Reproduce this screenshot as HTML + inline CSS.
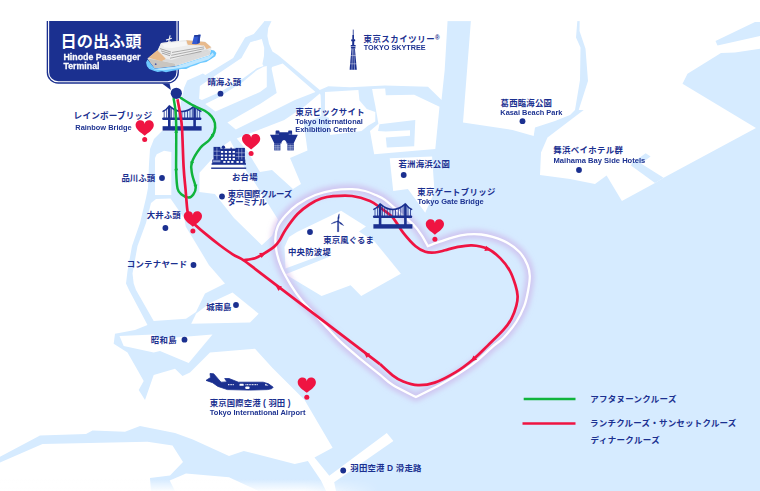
<!DOCTYPE html>
<html lang="ja"><head><meta charset="utf-8"><title>Tokyo Bay Cruise Route Map</title>
<style>
html,body{margin:0;padding:0;background:#fff;}
body{width:760px;height:491px;overflow:hidden;font-family:"Liberation Sans","Noto Sans CJK JP",sans-serif;}
svg{display:block;}
text{font-family:"Liberation Sans","Noto Sans CJK JP",sans-serif;font-weight:bold;}
</style></head><body>
<svg width="760" height="491" viewBox="0 0 760 491" role="img" aria-label="Tokyo Bay cruise route map">
<defs>
<linearGradient id="gmB" x1="0" y1="0" x2="1" y2="0"><stop offset="0" stop-color="#fff"/><stop offset=".8" stop-color="#fff"/><stop offset="1" stop-color="#000"/></linearGradient><mask id="mB" maskUnits="userSpaceOnUse" x="0" y="470" width="380" height="25"><rect x="0" y="470" width="380" height="25" fill="url(#gmB)"/></mask>
<linearGradient id="fadeB" x1="0" y1="0" x2="0" y2="1"><stop offset="0" stop-color="#fff" stop-opacity="0"/><stop offset="1" stop-color="#fff" stop-opacity=".9"/></linearGradient>
<filter id="glow" x="-10%" y="-10%" width="120%" height="120%"><feGaussianBlur stdDeviation="2.6"/></filter>
<g id="bridge" fill="#1b3090" stroke="#1b3090"><path stroke="none" d="M5.7,22V2.2L7,-.3L8.3,2.2V22Z"/><path stroke="none" d="M31,22V2.2L32.3,-.3L33.6,2.2V22Z"/><rect stroke="none" x="0" y="12.5" width="39" height="2.5" rx=".8"/><rect stroke="none" x=".3" y="21.2" width="39" height="4.4"/><path fill="none" stroke-width="1.5" d="M7.0,0.9Q19.65,12.2 32.3,0.9"/><path fill="none" stroke-width="1.5" d="M7.0,0.9Q4.4,5 .2,6.6"/><path fill="none" stroke-width="1.5" d="M32.3,0.9Q34.9,5 39.1,6.6"/><path fill="none" stroke-width=".8" d="M9.3,2.77V13M11.6,4.26V13M14.1,5.46V13M16.9,6.28V13M19.65,6.55V13M22.4,6.28V13M25.2,5.46V13M27.7,4.26V13M30,2.77V13M1.9,5.3V13M37.4,5.3V13M4.4,3.4V13M34.9,3.4V13"/></g>
</defs>
<rect x="0" y="0" width="760" height="491" fill="#d6ebff"/>
<g fill="#fff">
<polygon points="0,0 172,0 172,131 162,131 154,139 150,149 149,164 148,188 146,198 140,223 132,246 127.5,271 126,283.5 129,290 147.5,325 135,330 115,333.7 113.7,343.7 127.5,352.5 137.5,370 143.7,381 138.7,390 145,400 153.7,375 175,368.7 182.5,376 190,372.5 210,352.5 255,348.7 272.5,368 304.6,400 332.6,447.7 314.5,457.6 329.3,475.7 386.8,432.9 393.4,441.1 334.2,482.2 336,491 0,491"/>
<polygon points="156.7,154.2 164,150.8 171.3,152 171.3,195 155,195 155,158"/>
<polygon points="156,199 170.5,198.5 184.4,218.5 185.7,226.5 193,238.4 208.9,264.9 225,283.5 205,293.5 196,312 186,318.7 153.7,321 136,290 133.7,283.5 132.5,273.5 137.5,246 146,223 151,203"/>
<polygon points="232.5,292.5 258.7,313.7 250,322.5 191.2,323.7 196.2,313.5 210,303"/>
<polygon points="119.5,336 153.7,334.5 160,338.7 212.5,334.5 188.7,363 160,351 153.7,352.5 123.7,346"/>
<polygon points="297,232 341.1,210.7 366,226.6 359,231.5 374.8,241.7 400.9,273.7 361.2,295.9 350.6,285.3 321.6,295.9 285.8,274.6 284.5,247 289,237"/>
<polygon points="389.7,158.2 432.1,156.4 433.8,181.5 434.5,192 425.2,212.7 407.9,189 393.2,191"/>
<polygon points="472.5,0 579,0 576,37.5 580.5,47.5 580,80 575,110 570,115 555,121 535,127.5 533.7,136 512.5,130 463,122.5"/>
<polygon points="580,0 760,0 760,22 755,22 715.5,41 717.5,45.5 760,36 760,48.7 735,52.5 721,53 687.5,73.7 682.5,83.7 756,128 663.6,177.7 655,183 621.9,200.9 606.6,175.5 595,184 570,179 540,175 541,152.5 547.5,137.5 583.7,110 578.7,110 588,81 585.5,48.7 579.5,31"/>
<polygon points="172,0 264.2,0 264.2,21.6 253.8,33.9 245.1,37.5 234.8,55 233.2,58 205.4,75 202.9,73.5 187.2,80.6 184,88 183.2,92.8 181.4,98.7 180,110 172,122 163,131 150,131"/>
<polygon points="199.9,86 241.5,58 243.1,55 250.3,42.2 261.8,39 264.2,47.8 264,56 262.4,64.1 263.5,66 256.9,68.3 243,78.5 220.6,91.8 201.9,99.9 199.1,98.7"/>
<polygon points="205.2,103.9 218.3,97.6 243,81.8 256.9,70.2 263.5,66.8 266.8,66 266.8,87 260,92 215.5,111.5"/>
<polygon points="271.3,0 447.5,0 447.5,22 444.7,70 441.5,100 428,86.8 385,85.5 350,87.3 328.3,86.3 319.8,90 277.9,55 272.4,51.4 269,43.8 267.4,35.9 268.2,27.9 271.3,21.6"/>
<polygon points="227.4,122.6 260,103.9 276.7,93 271.6,68.8 272,67 282.7,63.5 315.5,92.1 294.4,100.3 260,117.4 235.8,129.4"/>
<polygon points="236.7,138.5 269.5,125.8 284.3,120 305,106 319.8,93.5 320.6,95 321.4,115.9 303.7,123 307.5,150.5 290,158 301,184 293,189 272,170 260,172 247.8,151.8"/>
<polygon points="325,92 358.4,90 359.5,100.5 366.8,109 375.3,112 375.3,121.6 367.9,125.8 361.6,131 330,135 329,118 325,116"/>
<polygon points="372.1,88.9 385.2,88.5 385.8,95.3 414.2,94.8 439.5,106.8 435.3,148.9 374.2,154.2 373.2,148.9 370,131 378.4,123.7 375.3,105.8 373.2,95.3"/>
<polygon points="199.5,172.7 225,144.4 230.3,140.7 246.1,170.6 253,180 278,219.6 272.1,235.7 261.8,245.2 234,218.1 214.9,193.9 199.3,192"/>
</g>
<g fill="#d6ebff">
<polygon points="284,269 327.5,253 329.3,256.8 285,274.5"/>
<polygon points="645.7,153.2 650.6,156.6 641,163.5 663.6,177.7 655,183 631,165.5 632,163"/>
<polygon points="379.5,124.3 415.3,120.1 414.2,146.2 386.8,147.5 385.8,137.4 410,135.7 410,130.2 385.8,131.5 378,131"/>
<polygon points="0,456.7 40,435.5 86,434 92.5,430.5 125,431.7 140,426 175,433 192.8,439.5 229,456 243.8,451 294.7,464 307.9,460.9 321,480.6 326,491 258.5,491 229,477.3 186,473.5 169.7,480.6 175,491 151,491 150,478 170,475.5 183,462 172.5,445.5 147.5,441.7 42.5,444 0,462.5"/>
</g>
<rect x="0" y="0" width="760" height="21.1" fill="#fff"/>
<rect x="0" y="479" width="380" height="12" fill="url(#fadeB)" mask="url(#mB)"/>
<use href="#bridge" x="162.3" y="105"/>
<path d="M415.9,397C412.05,395 398.85,388.78 392.8,385C386.75,381.22 385.12,378.73 379.6,374.3C374.08,369.87 366.32,363.92 359.7,358.4C353.08,352.88 345.75,346.78 339.9,341.2C334.05,335.62 329.08,329.7 324.6,324.9C320.12,320.1 316.77,316.42 313,312.4C309.23,308.38 305.67,305.32 302,300.8C298.33,296.28 294.4,290.78 291,285.3C287.6,279.82 284,273.45 281.6,267.9C279.2,262.35 277.63,256.98 276.6,252C275.57,247.02 275.2,242.25 275.4,238C275.6,233.75 276.08,230.3 277.8,226.5C279.52,222.7 282.42,218.87 285.7,215.2C288.98,211.53 292.57,207.87 297.5,204.5C302.43,201.13 309.37,197.37 315.3,195C321.23,192.63 326.98,191.28 333.1,190.3C339.22,189.32 346.68,188.98 352,189.1C357.32,189.22 361.07,190.02 365,191C368.93,191.98 372.27,193.52 375.6,195C378.93,196.48 381.1,197.07 385,199.9C388.9,202.73 394.32,207.93 399,212C403.68,216.07 409.32,220.42 413.1,224.3C416.88,228.18 419.25,231.65 421.7,235.3C424.15,238.95 426.78,244.38 427.8,246.2C429.83,245.45 434.52,243.52 440,241.7C445.48,239.88 453.82,236.5 460.7,235.3C467.58,234.1 474.15,233.57 481.3,234.5C488.45,235.43 497.23,237.98 503.6,240.9C509.97,243.82 515.53,248.03 519.5,252C523.47,255.97 525.68,260.72 527.4,264.7C529.12,268.68 529.67,271.68 529.8,275.9C529.93,280.12 529.12,285 528.2,290C527.28,295 526.28,300.6 524.3,305.9C522.32,311.2 519.75,316.5 516.3,321.8C512.85,327.1 507.53,333.57 503.6,337.7C499.67,341.83 497.38,342.57 492.7,346.6C488.02,350.63 481.02,357.48 475.5,361.9C469.98,366.32 465.57,369.25 459.6,373.1C453.63,376.95 446.98,381.02 439.7,385C432.42,388.98 419.87,395 415.9,397Z" fill="none" stroke="#c9a3e3" stroke-opacity=".5" stroke-width="9" filter="url(#glow)" stroke-linejoin="round"/>
<path d="M415.9,397C412.05,395 398.85,388.78 392.8,385C386.75,381.22 385.12,378.73 379.6,374.3C374.08,369.87 366.32,363.92 359.7,358.4C353.08,352.88 345.75,346.78 339.9,341.2C334.05,335.62 329.08,329.7 324.6,324.9C320.12,320.1 316.77,316.42 313,312.4C309.23,308.38 305.67,305.32 302,300.8C298.33,296.28 294.4,290.78 291,285.3C287.6,279.82 284,273.45 281.6,267.9C279.2,262.35 277.63,256.98 276.6,252C275.57,247.02 275.2,242.25 275.4,238C275.6,233.75 276.08,230.3 277.8,226.5C279.52,222.7 282.42,218.87 285.7,215.2C288.98,211.53 292.57,207.87 297.5,204.5C302.43,201.13 309.37,197.37 315.3,195C321.23,192.63 326.98,191.28 333.1,190.3C339.22,189.32 346.68,188.98 352,189.1C357.32,189.22 361.07,190.02 365,191C368.93,191.98 372.27,193.52 375.6,195C378.93,196.48 381.1,197.07 385,199.9C388.9,202.73 394.32,207.93 399,212C403.68,216.07 409.32,220.42 413.1,224.3C416.88,228.18 419.25,231.65 421.7,235.3C424.15,238.95 426.78,244.38 427.8,246.2C429.83,245.45 434.52,243.52 440,241.7C445.48,239.88 453.82,236.5 460.7,235.3C467.58,234.1 474.15,233.57 481.3,234.5C488.45,235.43 497.23,237.98 503.6,240.9C509.97,243.82 515.53,248.03 519.5,252C523.47,255.97 525.68,260.72 527.4,264.7C529.12,268.68 529.67,271.68 529.8,275.9C529.93,280.12 529.12,285 528.2,290C527.28,295 526.28,300.6 524.3,305.9C522.32,311.2 519.75,316.5 516.3,321.8C512.85,327.1 507.53,333.57 503.6,337.7C499.67,341.83 497.38,342.57 492.7,346.6C488.02,350.63 481.02,357.48 475.5,361.9C469.98,366.32 465.57,369.25 459.6,373.1C453.63,376.95 446.98,381.02 439.7,385C432.42,388.98 419.87,395 415.9,397Z" fill="none" stroke="#fff" stroke-width="2.3" stroke-linejoin="miter"/>
<path d="M173.7,98.7C174,100.67 175.08,106.12 175.5,110.5C175.92,114.88 176.08,118.42 176.2,125C176.32,131.58 176.2,142.12 176.2,150C176.2,157.88 175.97,165.85 176.2,172.3C176.43,178.75 176.7,185 177.6,188.7C178.5,192.4 179.77,193.02 181.6,194.5C183.43,195.98 186.65,197.6 188.6,197.6C190.55,197.6 192.12,196.18 193.3,194.5C194.48,192.82 195.88,190.82 195.7,187.5C195.52,184.18 192.87,178.7 192.2,174.6C191.53,170.5 190.33,167.38 191.7,162.9C193.07,158.42 197.47,151.52 200.4,147.7C203.33,143.88 206.98,142.62 209.3,140C211.62,137.38 213.37,134.82 214.3,132C215.23,129.18 215.37,125.7 214.9,123.1C214.43,120.5 213.18,118.45 211.5,116.4C209.82,114.35 207.78,112.58 204.8,110.8C201.82,109.02 197.62,107.85 193.6,105.7C189.58,103.55 182.85,99.2 180.7,97.9" fill="none" stroke="#10b43c" stroke-width="2.5" stroke-linecap="round"/>
<path d="M177.5,99.3C177.95,101.75 179.45,109.22 180.2,114C180.95,118.78 181.43,119.2 182,128C182.57,136.8 183,156.47 183.6,166.8C184.2,177.13 185.13,184.47 185.6,190C186.07,195.53 186.05,196.33 186.4,200C186.75,203.67 187.02,208.83 187.7,212C188.38,215.17 189.18,216.8 190.5,219C191.82,221.2 192.98,222.63 195.6,225.2C198.22,227.77 202.22,231.1 206.2,234.4C210.18,237.7 215.08,241.68 219.5,245C223.92,248.32 228.67,251.75 232.7,254.3C236.73,256.85 239.98,257.88 243.7,260.3C247.42,262.72 253.12,267.38 255,268.8L380,364.1" fill="none" stroke="#ef1442" stroke-width="2.7"/>
<path d="M243.7,260.3C245.58,259.95 251.83,259.2 255,258.2C258.17,257.2 259.48,256.23 262.7,254.3C265.92,252.37 271.45,248.98 274.3,246.6C277.15,244.22 277.9,242.87 279.8,240C281.7,237.13 282.75,233.73 285.7,229.4C288.65,225.07 293.55,218.15 297.5,214C301.45,209.85 305.45,207.07 309.4,204.5C313.35,201.93 317.25,199.98 321.2,198.6C325.15,197.22 327.97,196.63 333.1,196.2C338.23,195.77 345.85,195.2 352,196C358.15,196.8 365.33,199.08 370,201C374.67,202.92 376.28,204.83 380,207.5C383.72,210.17 388.42,212.77 392.3,217C396.18,221.23 399.42,228.02 403.3,232.9C407.18,237.78 411.93,243.15 415.6,246.3C419.27,249.45 422.07,250.77 425.3,251.8C428.53,252.83 431.72,252.75 435,252.5C438.28,252.25 441.52,251.17 445,250.3C448.48,249.43 451.43,248.13 455.9,247.3C460.37,246.47 466.5,245.05 471.8,245.3C477.1,245.55 482.93,246.62 487.7,248.8C492.47,250.98 496.68,254.68 500.4,258.4C504.12,262.12 507.48,266.6 510,271.1C512.52,275.6 514.23,281.25 515.5,285.4C516.77,289.55 517.47,292.58 517.6,296C517.73,299.42 517.32,302.13 516.3,305.9C515.28,309.67 513.62,314.63 511.5,318.6C509.38,322.57 507.57,325.2 503.6,329.7C499.63,334.2 492.73,340.68 487.7,345.6C482.67,350.52 478.72,354.78 473.4,359.2C468.08,363.62 462.25,368.2 455.8,372.1C449.35,376 441.02,380.42 434.7,382.6C428.38,384.78 423.15,385.37 417.9,385.2C412.65,385.03 407.42,383.25 403.2,381.6C398.98,379.95 396.47,378.22 392.6,375.3C388.73,372.38 382.1,365.97 380,364.1" fill="none" stroke="#ef1442" stroke-width="2.7"/>
<polygon fill="#ef1442" points="491.22,250.34 486.09,245.76 484.38,251.04"/>
<polygon fill="#ef1442" points="470.65,361.68 477.18,359.53 473.47,355.4"/>
<polygon fill="#ef1442" points="363.5,351.9 366.7,357.98 370.15,353.64"/>
<polygon fill="#ef1442" points="275.28,284.92 278.53,290.98 281.95,286.61"/>
<polygon fill="#ef1442" points="266.05,252.74 259.18,252.88 261.53,257.91"/>
<polygon fill="#10b43c" points="210.6,138.55 214.5,135.7 211.12,133.75"/>
<polygon fill="#10b43c" points="191.45,166.06 194.14,162.05 190.3,161.37"/>
<polygon fill="#10b43c" points="196.06,189.07 197.38,184.43 193.52,184.97"/>
<polygon fill="#10b43c" points="176.2,128.4 174.25,132.82 178.15,132.82"/>
<polygon fill="#10b43c" points="176.2,165.9 174.25,170.32 178.15,170.32"/>
<use href="#bridge" x="373.1" y="203"/><g fill="#1b3090"><rect x="352.8" y="29.6" width=".8" height="10"/><rect x="352.4" y="35" width="1.6" height="4.5"/><rect x="351.2" y="39.3" width="4" height="2" rx=".6"/><rect x="352.2" y="41" width="2" height="4.2"/><rect x="350.7" y="44.9" width="5" height="1.5" rx=".5"/><rect x="350.9" y="46.9" width="4.6" height="1.5" rx=".5"/><path d="M351.5,48.6H354.9L356.8,69.8H349.6Z"/><path d="M352.6,49L351.9,69.8M353.8,49L354.5,69.8" stroke="#fff" stroke-width=".45" fill="none"/><path d="M350.2,55.5H356.2M349.7,63.8H356.7" stroke="#fff" stroke-width=".4" fill="none"/></g><g fill="#1b3090"><path d="M275.6,135.4V131.2Q275.6,130.5 276.3,130.5H278.8Q279.5,130.5 279.5,131.2V132.3H288.2V131.2Q288.2,130.5 288.9,130.5H291.4Q292.1,130.5 292.1,131.2V135.4Z"/><path d="M270,134.8H297.8L293.6,143.6H286.5V142.2Q284.05,138 281.5,142.2V143.6H274.4Z"/><rect x="274.2" y="143.3" width="6.2" height="7.1"/><rect x="287.4" y="143.3" width="6.4" height="7.1"/><path d="M275.8,144.4V150.4M277.3,144.4V150.4M278.8,144.4V150.4M274.2,145.6H280.5M274.2,147.3H280.5M274.2,149H280.5M289.1,144.4V150.4M290.6,144.4V150.4M292.1,144.4V150.4M287.5,145.6H293.8M287.5,147.3H293.8M287.5,149H293.8" stroke="#e6edfb" stroke-width=".4" fill="none"/><path d="M276,134.2H279M288.7,134.2H291.7" stroke="#dfe7f8" stroke-width=".5" fill="none"/></g><g fill="#1b3090"><rect x="211.2" y="167.5" width="35" height="1.4"/><rect x="213.5" y="146.9" width="6.8" height="13"/><rect x="220" y="148.6" width="16" height="11.5"/><circle cx="223.4" cy="147.3" r="1.7"/><rect x="230.5" y="147.6" width="1.2" height="2"/><rect x="235.6" y="147.9" width="9.3" height="12"/><path d="M211.6,164.7V163.3H212.3V159.4H245.3V163.3H246V164.7Z"/><path d="M216.9,147.5V159.4M213.5,151.2H220.3M213.5,155.4H220.3M238.7,148.5V159.4M241.8,148.5V159.4M235.6,152.8H244.9M235.6,156.6H244.9" stroke="#dfe6f7" stroke-width=".45" fill="none"/><g fill="#fff"><rect x="220.9" y="151.0" width="2.3" height="1.9"/><rect x="224.8" y="151.0" width="2.3" height="1.9"/><rect x="228.7" y="151.0" width="2.3" height="1.9"/><rect x="232.6" y="151.0" width="2.3" height="1.9"/><rect x="220.9" y="154.6" width="2.3" height="1.9"/><rect x="224.8" y="154.6" width="2.3" height="1.9"/><rect x="228.7" y="154.6" width="2.3" height="1.9"/><rect x="232.6" y="154.6" width="2.3" height="1.9"/><rect x="220.9" y="158.0" width="2.3" height="1.9"/><rect x="224.8" y="158.0" width="2.3" height="1.9"/><rect x="228.7" y="158.0" width="2.3" height="1.9"/><rect x="232.6" y="158.0" width="2.3" height="1.9"/><rect x="223.3" y="161" width="2.3" height="1.9"/><rect x="227.3" y="161" width="2.3" height="1.9"/><rect x="231.2" y="161" width="2.3" height="1.9"/><rect x="236.5" y="161" width="2.3" height="1.9"/><rect x="240.4" y="161" width="2.3" height="1.9"/></g><rect x="213" y="160.3" width="7.4" height="2" fill="#8c9bd0"/></g><g fill="#1b3090" stroke="#1b3090" stroke-width=".35" stroke-linejoin="round"><path d="M337.55,221.3L337.40000000000003,231.7H338.8L338.65000000000003,221.3Z"/><path d="M338.1,221.3Q337,218.1 339.2,213.8Q339.7,217.9 338.1,221.3Z"/><path d="M338.1,221.3Q334.9,220.7 331.1,223.8Q335.1,223.2 338.1,221.3Z"/><path d="M338.1,221.3Q341.5,222.2 343.7,225.6Q339.7,224.5 338.1,221.3Z"/><circle cx="338.1" cy="221.3" r=".9"/></g><g fill="#1b3090"><path d="M206,380.4L210.5,377.5L210,373.5L213.7,373.8L221,382.2L227,381.9L224.7,378.5L229,378.5L238.4,382.2L263.2,382.2L268.4,383.8L273.2,387.2L271.6,388.8L267.4,389.6L249.5,390.1L227.4,389.6L217.9,386.4L212.6,382.7Z" stroke="#1b3090" stroke-width=".8" stroke-linejoin="round"/><g fill="#fff"><rect x="228" y="384.1" width="1" height="1.1"/><rect x="229.6" y="384.1" width="1" height="1.1"/><rect x="231.2" y="384.1" width="1" height="1.1"/><rect x="232.8" y="384.1" width="1" height="1.1"/><rect x="245.5" y="384.1" width="1" height="1.1"/><rect x="247.1" y="384.1" width="1" height="1.1"/><rect x="248.7" y="384.1" width="1" height="1.1"/><rect x="250.3" y="384.1" width="1" height="1.1"/><rect x="251.9" y="384.1" width="1" height="1.1"/><rect x="253.5" y="384.1" width="1" height="1.1"/><rect x="255.1" y="384.1" width="1" height="1.1"/><rect x="256.7" y="384.1" width="1" height="1.1"/><rect x="239.5" y="383.8" width="4.2" height="2" rx=".6"/><rect x="245.2" y="386.4" width="4.4" height="2.6" rx="1.2"/><path d="M265.2,383.8L268.6,385.4H265.2Z"/></g></g>
<g fill="#ef1442">
<path transform="translate(135.6,120.2) scale(18.2,17.18)" d="M.5,.22C.5,.08 .39,0 .27,0C.12,0 0,.12 0,.28C0,.55 .3,.72 .5,.9C.7,.72 1,.55 1,.28C1,.12 .88,0 .73,0C.61,0 .5,.08 .5,.22Z"/><circle cx="144.7" cy="139.4" r="2.5"/>
<path transform="translate(242,134) scale(18.2,17.18)" d="M.5,.22C.5,.08 .39,0 .27,0C.12,0 0,.12 0,.28C0,.55 .3,.72 .5,.9C.7,.72 1,.55 1,.28C1,.12 .88,0 .73,0C.61,0 .5,.08 .5,.22Z"/><circle cx="251.1" cy="153.5" r="2.5"/>
<path transform="translate(183.8,211.3) scale(18.2,17.18)" d="M.5,.22C.5,.08 .39,0 .27,0C.12,0 0,.12 0,.28C0,.55 .3,.72 .5,.9C.7,.72 1,.55 1,.28C1,.12 .88,0 .73,0C.61,0 .5,.08 .5,.22Z"/><circle cx="192.9" cy="231.1" r="2.5"/>
<path transform="translate(425.8,219.3) scale(18.2,17.18)" d="M.5,.22C.5,.08 .39,0 .27,0C.12,0 0,.12 0,.28C0,.55 .3,.72 .5,.9C.7,.72 1,.55 1,.28C1,.12 .88,0 .73,0C.61,0 .5,.08 .5,.22Z"/><circle cx="434.9" cy="239.3" r="2.5"/>
<path transform="translate(297.7,377.4) scale(18.2,17.18)" d="M.5,.22C.5,.08 .39,0 .27,0C.12,0 0,.12 0,.28C0,.55 .3,.72 .5,.9C.7,.72 1,.55 1,.28C1,.12 .88,0 .73,0C.61,0 .5,.08 .5,.22Z"/><circle cx="306.8" cy="397.2" r="2.5"/>
</g>
<g fill="#1b3090">
<circle cx="220.5" cy="93.7" r="2.9"/><circle cx="162" cy="178" r="2.9"/><circle cx="222" cy="196.5" r="2.9"/><circle cx="165.4" cy="228" r="2.9"/><circle cx="310" cy="232" r="2.9"/><circle cx="403.7" cy="175" r="2.9"/><circle cx="522.5" cy="121.2" r="2.9"/><circle cx="579" cy="170" r="2.9"/><circle cx="193.5" cy="265" r="2.9"/><circle cx="236" cy="305" r="2.9"/><circle cx="184.5" cy="339.7" r="2.9"/><circle cx="343.2" cy="470.5" r="2.9"/>
</g>
<g>
<path d="M46.7,21.1H178.9V72.2a11.5,11.5 0 0 1 -11.5,11.5H58.2a11.5,11.5 0 0 1 -11.5,-11.5Z" fill="#1b3090"/>
<path d="M162,83.5L170.9,90L169.6,83.5Z" fill="#1b3090"/>
<path d="M48.6,21.1V72.2a9.6,9.6 0 0 0 9.6,9.6H167.4a9.6,9.6 0 0 0 9.6,-9.6V21.1" fill="none" stroke="#fff" stroke-width="1.1"/>
</g>
<g><polygon fill="#6cc8ff" points="146.06,62.51 146.96,66.21 149.2,68.9 153.68,70.69 157.6,72.03 162.08,71.14 166,72.26 171.59,70.91 176.07,70.35 181.11,68.9 186.15,68.9 190.63,66.66 196.23,65.09 200.71,63.07 206.31,61.95 210.79,59.15 215.27,56.35 216.39,53 214.15,50.53 210.79,49.86 209.67,55.24 174.95,66.21 154.8,68.45 147.52,59.49"/><polygon fill="#bfe7ff" points="148.64,65.87 154.8,69.57 163.76,70.24 174.95,68.67 186.15,66.88 197.35,63.07 208.55,59.49 213.92,55.01 212.8,52.44 209.67,55.46 174.95,66.66 154.8,68.9"/><polygon fill="#e6e6e6" points="147.52,58.59 154.8,68.34 174.95,65.99 209.67,54.79 211.46,47.4 205.19,41.8 186.15,40.12 160.96,42.92 157.6,50.2"/><polygon fill="#c9c5bf" points="147.52,58.59 154.8,68.34 174.95,65.99 175.51,63.63 162.08,61.06"/><polygon fill="#dadada" points="174.95,65.99 209.67,54.79 210.79,50.53 175.51,63.07"/><polygon fill="#e8ba8c" points="148.41,57.81 157.26,50.31 166.22,58.93 161.74,61.17"/><polygon fill="#e8ba8c" points="186.15,40.34 205.19,42.02 211.24,47.17 206.53,49.19 200.71,45.38 187.27,44.71"/><polygon fill="#ededed" points="158.38,49.41 161.18,42.92 186.15,40.34 187.83,44.93 204.07,45.38 206.53,49.19 171.59,59.94 166,59.04"/><polygon fill="#f7f7f7" points="162.08,44.04 185.59,41.46 187.27,45.38 171.59,47.96 164.32,47.4"/><polygon fill="#d9d9d9" points="166,59.04 171.59,59.94 206.53,49.19 209.67,50.98 175.51,63.41 162.08,61.06"/><path d="M160.4,48.74L171.03,52.1M161.29,50.98L170.47,53.89M162.41,53.22L169.91,55.68" stroke="#3a3a3a" stroke-width=".75" stroke-dasharray=".55 .45" fill="none"/><path d="M172.15,52.44L204.07,46.95M171.59,55.24L204.07,48.74M170.47,58.15L201.27,51.43" stroke="#4a4a4a" stroke-width=".75" stroke-dasharray=".55 .45" fill="none"/><polygon fill="#3259d3" points="191.98,44.04 194.22,35.3 200.49,34.63 199.48,42.92 196.23,44.26"/><polygon fill="#2545ad" points="197.01,43.81 198.25,34.85 200.49,34.63 199.48,42.92"/><polygon fill="#1d3791" points="194.22,35.3 200.49,34.63 199.81,36.2 194.44,36.87"/><path d="M170.14,35.3L168.01,44.93M166,40.12L171.82,38.21M167.34,42.69L170.7,41.57" stroke="#f4f4f4" stroke-width="1.1" fill="none"/><circle cx="155.69" cy="64.19" r=".9" fill="#4a5aa8"/></g>
<circle cx="176.3" cy="93.3" r="5.6" fill="#1b3090"/>
<g fill="#fff"><text x="60.61" y="47.06" font-size="16.2" textLength="80.75">日の出ふ頭</text></g>
<g fill="#1b3090"><text x="207.44" y="85.49" font-size="8.4" textLength="33.6">晴海ふ頭</text></g>
<g fill="#1b3090"><text x="73.6" y="119.27" font-size="8.6" textLength="78.4">レインボーブリッジ</text></g>
<g fill="#1b3090"><text x="363.44" y="41.99" font-size="8.4" textLength="71.1">東京スカイツリー</text></g>
<g fill="#1b3090"><text x="295.45" y="115.39" font-size="8.4" textLength="69.1">東京ビックサイト</text></g>
<g fill="#1b3090"><text x="500.6" y="105.69" font-size="8.4" textLength="51.3">葛西臨海公園</text></g>
<g fill="#1b3090"><text x="553.28" y="153.19" font-size="8.4" textLength="69.5">舞浜ベイホテル群</text></g>
<g fill="#1b3090"><text x="232.11" y="179.79" font-size="8.4" textLength="25.4">お台場</text></g>
<g fill="#1b3090"><text x="121.41" y="181.19" font-size="8.4" textLength="33.7">品川ふ頭</text></g>
<g fill="#1b3090"><text x="227.77" y="196.99" font-size="8.4" textLength="64.4">東京国際クルーズ</text></g>
<g fill="#1b3090"><text x="227.53" y="205.09" font-size="8.4" textLength="39.4">ターミナル</text></g>
<g fill="#1b3090"><text x="398.53" y="166.99" font-size="8.4" textLength="51.3">若洲海浜公園</text></g>
<g fill="#1b3090"><text x="417.25" y="194.69" font-size="8.4" textLength="78.1">東京ゲートブリッジ</text></g>
<g fill="#1b3090"><text x="146.69" y="218.39" font-size="8.4" textLength="33.9">大井ふ頭</text></g>
<g fill="#1b3090"><text x="323.26" y="242.99" font-size="8.4" textLength="50.6">東京風ぐるま</text></g>
<g fill="#1b3090"><text x="287.94" y="254.99" font-size="8.4" textLength="42.9">中央防波堤</text></g>
<g fill="#1b3090"><text x="126.76" y="266.69" font-size="8.4" textLength="60.3">コンテナヤード</text></g>
<g fill="#1b3090"><text x="206.27" y="309.99" font-size="8.4" textLength="25.1">城南島</text></g>
<g fill="#1b3090"><text x="150.63" y="343.39" font-size="8.4" textLength="25.9">昭和島</text></g>
<g fill="#1b3090"><text x="209.76" y="405.79" font-size="8.4" textLength="80.8">東京国際空港 ( 羽田 )</text></g>
<g fill="#1b3090"><text x="350.33" y="471.39" font-size="8.4" textLength="71">羽田空港 D 滑走路</text></g>
<g fill="#1b3090"><text x="590.23" y="401.63" font-size="8.5" textLength="86.2">アフタヌーンクルーズ</text></g>
<g fill="#1b3090"><text x="590.07" y="426.33" font-size="8.5" textLength="146.3">ランチクルーズ・サンセットクルーズ</text></g>
<g fill="#1b3090"><text x="590.58" y="443.33" font-size="8.5" textLength="69.1">ディナークルーズ</text></g>
<g opacity=".99">
<text x="63.5" y="59.8" font-size="9.4" fill="#fff" textLength="77" lengthAdjust="spacingAndGlyphs" font-weight="normal" stroke="#fff" stroke-width=".3">Hinode Passenger</text>
<text x="63.5" y="68.8" font-size="9.4" fill="#fff" textLength="36" lengthAdjust="spacingAndGlyphs" font-weight="normal" stroke="#fff" stroke-width=".3">Terminal</text>
<text x="75.3" y="129.9" font-size="7.8" fill="#1b3090" textLength="56.3" lengthAdjust="spacingAndGlyphs">Rainbow Bridge</text>
<text x="363.7" y="50" font-size="7.8" fill="#1b3090" textLength="62" lengthAdjust="spacingAndGlyphs">TOKYO SKYTREE</text>
<text x="295.3" y="124.2" font-size="7.8" fill="#1b3090" textLength="67.5" lengthAdjust="spacingAndGlyphs">Tokyo International</text>
<text x="295.3" y="131.8" font-size="7.8" fill="#1b3090" textLength="61.4" lengthAdjust="spacingAndGlyphs">Exhibition Center</text>
<text x="500.3" y="114.8" font-size="7.8" fill="#1b3090" textLength="62.1" lengthAdjust="spacingAndGlyphs">Kasai Beach Park</text>
<text x="553.5" y="163.1" font-size="7.8" fill="#1b3090" textLength="91.8" lengthAdjust="spacingAndGlyphs">Maihama Bay Side Hotels</text>
<text x="417.5" y="203.5" font-size="7.8" fill="#1b3090" textLength="66.2" lengthAdjust="spacingAndGlyphs">Tokyo Gate Bridge</text>
<text x="209.8" y="414.5" font-size="7.8" fill="#1b3090" textLength="95.7" lengthAdjust="spacingAndGlyphs">Tokyo International Airport</text>
</g>
<g fill="#1b3090"><text x="434.9" y="39.7" font-size="6.3">®</text></g>
<path d="M523.7,399H575.5" stroke="#10b43c" stroke-width="2.4"/><path d="M522.5,423.5H575.5" stroke="#ef1442" stroke-width="2.4"/>
</svg></body></html>
